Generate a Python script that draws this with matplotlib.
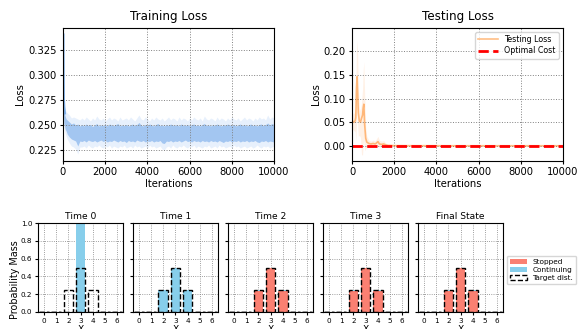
import matplotlib.pyplot as plt
import numpy as np

# ---- training loss ----
train_iter = [0, 10, 20, 40, 70, 100, 150, 200, 300, 400, 500, 600, 700, 800] + list(range(900, 10001, 100))
train_hi = [0.340, 0.300, 0.275, 0.268, 0.262, 0.259, 0.256, 0.255, 0.253, 0.251, 0.252, 0.250, 0.251, 0.249,
            0.2505, 0.2490, 0.2510, 0.2495, 0.2505, 0.2485, 0.2500, 0.2515, 0.2490, 0.2500,
            0.2495, 0.2505, 0.2490, 0.2510, 0.2500, 0.2495, 0.2505, 0.2515, 0.2490, 0.2500,
            0.2495, 0.2505, 0.2490, 0.2500, 0.2510, 0.2495, 0.2505, 0.2525, 0.2500, 0.2490,
            0.2505, 0.2495, 0.2510, 0.2500, 0.2490, 0.2505, 0.2515, 0.2495, 0.2500, 0.2490,
            0.2505, 0.2495, 0.2510, 0.2500, 0.2495, 0.2505, 0.2490, 0.2510, 0.2500, 0.2495,
            0.2505, 0.2490, 0.2505, 0.2510, 0.2495, 0.2500, 0.2490, 0.2505, 0.2515, 0.2495,
            0.2500, 0.2490, 0.2505, 0.2495, 0.2510, 0.2500, 0.2490, 0.2505, 0.2495, 0.2510,
            0.2500, 0.2495, 0.2505, 0.2490, 0.2500, 0.2510, 0.2495, 0.2505, 0.2490, 0.2500,
            0.2510, 0.2495, 0.2500, 0.2490, 0.2505, 0.2510, 0.2495, 0.2505, 0.2520, 0.2500,
            0.2515, 0.2505]
train_lo = [0.325, 0.280, 0.262, 0.252, 0.250, 0.246, 0.244, 0.241, 0.238, 0.236, 0.235, 0.234, 0.229, 0.234,
            0.2335, 0.2345, 0.2330, 0.2350, 0.2340, 0.2335, 0.2345, 0.2330, 0.2340, 0.2350,
            0.2335, 0.2345, 0.2330, 0.2340, 0.2335, 0.2350, 0.2340, 0.2330, 0.2345, 0.2335,
            0.2340, 0.2325, 0.2345, 0.2335, 0.2340, 0.2330, 0.2350, 0.2340, 0.2335, 0.2345,
            0.2330, 0.2340, 0.2335, 0.2345, 0.2330, 0.2340, 0.2335, 0.2345, 0.2320, 0.2315,
            0.2340, 0.2335, 0.2345, 0.2330, 0.2340, 0.2335, 0.2345, 0.2330, 0.2340, 0.2350,
            0.2335, 0.2340, 0.2330, 0.2345, 0.2335, 0.2340, 0.2330, 0.2345, 0.2335, 0.2340,
            0.2330, 0.2345, 0.2335, 0.2340, 0.2330, 0.2345, 0.2335, 0.2325, 0.2340, 0.2335,
            0.2345, 0.2330, 0.2340, 0.2335, 0.2345, 0.2330, 0.2340, 0.2335, 0.2345, 0.2330,
            0.2340, 0.2335, 0.2345, 0.2330, 0.2325, 0.2340, 0.2335, 0.2345, 0.2330, 0.2340,
            0.2335, 0.2330]
train_max = [0.342, 0.310, 0.280, 0.272, 0.268, 0.266, 0.263, 0.262, 0.260, 0.257, 0.258, 0.257, 0.256, 0.255,
             0.257, 0.255, 0.258, 0.256, 0.254, 0.257, 0.255, 0.259, 0.256, 0.255,
             0.257, 0.254, 0.256, 0.258, 0.255, 0.257, 0.256, 0.254, 0.258, 0.255,
             0.256, 0.257, 0.255, 0.258, 0.256, 0.254, 0.257, 0.260, 0.256, 0.255,
             0.258, 0.256, 0.254, 0.257, 0.255, 0.258, 0.256, 0.255, 0.257, 0.254,
             0.256, 0.258, 0.255, 0.257, 0.256, 0.254, 0.258, 0.255, 0.257, 0.256,
             0.254, 0.257, 0.255, 0.258, 0.256, 0.255, 0.257, 0.254, 0.259, 0.256,
             0.255, 0.257, 0.256, 0.254, 0.258, 0.255, 0.257, 0.256, 0.254, 0.257,
             0.255, 0.258, 0.256, 0.255, 0.257, 0.254, 0.256, 0.258, 0.255, 0.257,
             0.256, 0.254, 0.257, 0.255, 0.258, 0.256, 0.257, 0.255, 0.260, 0.256,
             0.258, 0.257]
train_min = [0.320, 0.275, 0.255, 0.248, 0.245, 0.242, 0.239, 0.236, 0.232, 0.229, 0.228, 0.226, 0.221, 0.228,
             0.228, 0.229, 0.227, 0.230, 0.228, 0.227, 0.229, 0.228, 0.230, 0.228,
             0.227, 0.229, 0.228, 0.230, 0.227, 0.229, 0.228, 0.227, 0.229, 0.228,
             0.230, 0.227, 0.228, 0.229, 0.227, 0.230, 0.228, 0.229, 0.227, 0.228,
             0.229, 0.227, 0.230, 0.228, 0.229, 0.227, 0.228, 0.229, 0.226, 0.225,
             0.228, 0.229, 0.227, 0.230, 0.228, 0.227, 0.229, 0.228, 0.230, 0.228,
             0.227, 0.229, 0.228, 0.230, 0.227, 0.229, 0.228, 0.227, 0.229, 0.228,
             0.230, 0.227, 0.228, 0.229, 0.227, 0.230, 0.228, 0.229, 0.227, 0.228,
             0.229, 0.227, 0.230, 0.228, 0.229, 0.227, 0.228, 0.229, 0.227, 0.228,
             0.229, 0.227, 0.228, 0.230, 0.228, 0.227, 0.229, 0.228, 0.229, 0.227,
             0.228, 0.229]

# ---- testing loss ----
test_iter = [0, 50, 100, 150, 180, 210, 240, 270, 300, 350, 400, 450, 500, 530, 560, 600, 650, 700, 800,
             900, 1000, 1100, 1160, 1230, 1300, 1400, 1500, 1600, 1700, 1800, 2000, 3000, 4000, 5000,
             6000, 7000, 8000, 9000, 10000]
test_mean = [0.050, 0.052, 0.050, 0.053, 0.060, 0.120, 0.146, 0.110, 0.070, 0.052, 0.050, 0.058, 0.065, 0.080,
             0.088, 0.045, 0.016, 0.008, 0.005, 0.004, 0.005, 0.004, 0.006, 0.009, 0.004, 0.003, 0.004,
             0.002, 0.001, 0.001, 0.0005, 0.0003, 0.0003, 0.0002, 0.0002, 0.0002, 0.0002, 0.0002, 0.0002]
test_hi = [0.060, 0.070, 0.068, 0.080, 0.120, 0.200, 0.223, 0.190, 0.120, 0.080, 0.075, 0.090, 0.120, 0.160,
           0.178, 0.110, 0.040, 0.020, 0.012, 0.010, 0.012, 0.010, 0.015, 0.020, 0.012, 0.010, 0.011,
           0.006, 0.003, 0.002, 0.001, 0.0008, 0.0008, 0.0006, 0.0006, 0.0006, 0.0006, 0.0006, 0.0006]
test_lo = [0.035, 0.034, 0.032, 0.030, 0.010, 0.040, 0.070, 0.040, 0.020, 0.022, 0.018, -0.018, -0.020, 0.005,
           0.010, -0.010, -0.006, -0.004, -0.002, -0.002, -0.002, -0.002, -0.002, -0.001, -0.002, -0.002,
           -0.002, -0.001, -0.001, 0.0, 0.0, -0.0002, -0.0002, -0.0002, -0.0002, -0.0002, -0.0002, -0.0002, -0.0002]
optimal_cost = 0.0

# ---- distributions ----
states = [0, 1, 2, 3, 4, 5, 6]
panel_titles = ["Time 0", "Time 1", "Time 2", "Time 3", "Final State"]
stopped = [[0, 0, 0, 0, 0, 0, 0],
           [0, 0, 0, 0, 0, 0, 0],
           [0, 0, 0.24, 0.49, 0.24, 0, 0],
           [0, 0, 0.24, 0.49, 0.24, 0, 0],
           [0, 0, 0.24, 0.49, 0.24, 0, 0]]
continuing = [[0, 0, 0, 1.0, 0, 0, 0],
              [0, 0, 0.25, 0.5, 0.25, 0, 0],
              [0, 0, 0.01, 0.01, 0.01, 0, 0],
              [0, 0, 0.01, 0.01, 0.01, 0, 0],
              [0, 0, 0.01, 0.01, 0.01, 0, 0]]
target = [0, 0, 0.25, 0.5, 0.25, 0, 0]

W, H = 581, 329
fig = plt.figure(figsize=(W / 100, H / 100), dpi=100)

def box(x0, y0, x1, y1):
    return [x0 / W, 1 - y1 / H, (x1 - x0) / W, (y1 - y0) / H]

fs = 7.2
grid_kw = dict(color="gray", linestyle=":", linewidth=0.7)

# training
ax1 = fig.add_axes(box(63, 28, 274, 161))
ax1.fill_between(train_iter, train_min, train_max, color="#e7f0fc", lw=0)
ax1.fill_between(train_iter, train_lo, train_hi, color="#a3c6f1", lw=0)
ax1.plot(train_iter[:5], train_hi[:5], color="#7fb0ea", lw=2.2)
ax1.set_xlim(0, 10000)
ax1.set_ylim(0.214, 0.347)
ax1.set_yticks([0.225, 0.25, 0.275, 0.3, 0.325])
ax1.set_title("Training Loss", fontsize=8.6)
ax1.set_xlabel("Iterations", fontsize=fs, labelpad=1)
ax1.set_ylabel("Loss", fontsize=fs, labelpad=2)
ax1.tick_params(labelsize=fs, length=2.5, pad=2)
ax1.grid(True, **grid_kw)

# testing
ax2 = fig.add_axes(box(352, 28, 563, 161))
ax2.fill_between(test_iter, test_lo, test_hi, color="tab:orange", alpha=0.1, lw=0)
ax2.plot(test_iter, test_mean, color="tab:orange", alpha=0.5, lw=1.2, label="Testing Loss")
ax2.axhline(optimal_cost, color="red", linestyle="--", lw=2, label="Optimal Cost")
ax2.set_xlim(0, 10000)
ax2.set_ylim(-0.032, 0.249)
ax2.set_yticks([0.0, 0.05, 0.1, 0.15, 0.2])
ax2.set_title("Testing Loss", fontsize=8.6)
ax2.set_xlabel("Iterations", fontsize=fs, labelpad=1)
ax2.set_ylabel("Loss", fontsize=fs, labelpad=2)
ax2.tick_params(labelsize=fs, length=2.5, pad=2)
ax2.grid(True, **grid_kw)
ax2.legend(loc="upper right", fontsize=5.7, handlelength=2.5, borderpad=0.4, labelspacing=0.3)

# distributions
lefts = [38, 133, 228, 323, 418]
axs = []
for k in range(5):
    ax = fig.add_axes(box(lefts[k], 223, lefts[k] + 85, 312))
    ax.bar(states, stopped[k], width=0.8, color="salmon", label="Stopped", zorder=2)
    ax.bar(states, continuing[k], width=0.8, bottom=stopped[k], color="skyblue", label="Continuing", zorder=2)
    ax.bar(states, target, width=0.8, fill=False, edgecolor="black", linestyle="--", lw=1,
           label="Target dist.", zorder=3)
    ax.set_xlim(-0.5, 6.5)
    ax.set_ylim(0, 1.0)
    ax.set_xticks(states)
    ax.set_yticks([0, 0.2, 0.4, 0.6, 0.8, 1.0])
    ax.set_title(panel_titles[k], fontsize=6.6, pad=3)
    ax.set_xlabel("X", fontsize=6.6, labelpad=1)
    ax.tick_params(labelsize=5.2, length=2, pad=2)
    if k > 0:
        ax.set_yticklabels([])
    ax.grid(True, color="gray", linestyle=":", linewidth=0.6, zorder=0)
    ax.set_axisbelow(True)
    axs.append(ax)

fig.text(15 / W, 1 - 280 / H, "Probability Mass", rotation=90, fontsize=6.9, ha="center", va="center")
h, l = axs[-1].get_legend_handles_labels()
fig.legend(h, l, loc="center left", bbox_to_anchor=(503 / W, 1 - 270 / H), fontsize=5.3,
           handlelength=2.3, borderpad=0.4, labelspacing=0.3)

fig.savefig("out.png", dpi=100)
